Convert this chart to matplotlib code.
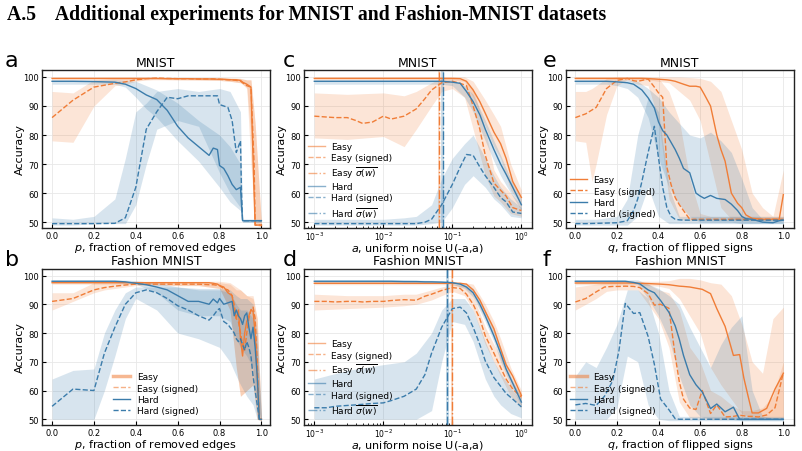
import numpy as np
import matplotlib.pyplot as plt

ORANGE = '#f07d37'
BLUE = '#3b7cab'

# ---- panel a: MNIST, removed edges ----
a_x = [0.0, 0.1, 0.2, 0.3, 0.35, 0.4, 0.45, 0.5, 0.55, 0.6, 0.65, 0.7, 0.75, 0.77, 0.79, 0.8, 0.82, 0.84,
       0.86, 0.88, 0.9, 0.905, 0.91, 0.93, 0.95, 0.965, 0.97, 1.0]
a_easy = [99.5, 99.5, 99.5, 99.5, 99.5, 99.5, 99.5, 99.5, 99.4, 99.4, 99.4, 99.3, 99.3, 99.3, 99.2, 99.2, 99.2,
          99.1, 99.0, 99.0, 98.8, 98.5, 98.2, 97.5, 96.5, 60.0, 49.0, 49.0]
a_easy_s = [86.0, 92.0, 96.5, 97.8, 98.3, 99.0, 99.4, 99.6, 99.5, 99.4, 99.4, 99.3, 99.3, 99.3, 99.2, 99.2, 99.1,
            99.0, 99.0, 98.8, 98.6, 98.3, 98.0, 97.0, 96.5, 70.0, 49.0, 49.0]
a_hard = [98.5, 98.5, 98.4, 98.2, 97.5, 96.0, 93.8, 92.2, 88.5, 83.0, 79.0, 76.0, 73.0, 75.5, 75.0, 69.5, 68.5,
          66.0, 63.0, 61.2, 62.0, 56.0, 50.5, 50.5, 50.5, 50.5, 50.5, 50.5]
a_hard_s = [49.5, 49.5, 49.5, 49.6, 51.5, 62.0, 82.0, 88.0, 93.0, 92.5, 93.5, 93.5, 93.5, 93.5, 93.5, 90.5, 90.0,
            89.5, 85.0, 74.0, 78.0, 60.0, 50.5, 50.5, 50.5, 50.5, 50.5, 50.5]
a_bx = [0.0, 0.1, 0.2, 0.3, 0.35, 0.4, 0.45, 0.5, 0.6, 0.7, 0.8, 0.85, 0.9, 0.91, 0.93, 0.95, 0.97, 1.0]
a_easy_lo = [99.0, 99.0, 99.0, 99.0, 99.0, 99.0, 99.0, 99.0, 99.0, 98.9, 98.8, 98.5, 98.0, 97.5, 96.5, 80.0, 49.0, 48.5]
a_easy_hi = [99.8, 99.8, 99.8, 99.8, 99.8, 99.8, 99.8, 99.8, 99.8, 99.8, 99.7, 99.6, 99.5, 99.3, 99.0, 99.0, 84.0, 49.5]
a_easy_s_lo = [78.0, 77.5, 90.0, 97.0, 97.5, 98.5, 99.0, 99.2, 99.0, 99.0, 98.8, 98.5, 98.0, 97.5, 96.0, 70.0, 49.0, 48.5]
a_easy_s_hi = [95.0, 94.5, 99.0, 99.5, 99.6, 99.7, 99.8, 99.8, 99.8, 99.8, 99.7, 99.6, 99.5, 99.3, 99.0, 99.0, 84.0, 49.5]
a_hard_lo = [97.5, 97.5, 97.5, 97.5, 96.5, 93.0, 89.0, 86.0, 78.0, 71.0, 62.0, 57.0, 54.0, 50.0, 50.0, 50.0, 50.0, 50.0]
a_hard_hi = [99.0, 99.0, 99.0, 99.0, 98.8, 98.5, 97.0, 95.5, 91.0, 85.0, 80.0, 76.0, 70.0, 51.0, 51.0, 51.0, 51.0, 51.0]
a_hard_s_lo = [49.0, 49.0, 49.5, 49.5, 49.5, 56.0, 70.0, 82.0, 85.0, 83.0, 67.0, 60.0, 55.0, 50.0, 50.0, 50.0, 50.0, 50.0]
a_hard_s_hi = [51.5, 51.0, 52.0, 58.0, 72.0, 88.0, 91.0, 95.0, 96.0, 95.0, 96.0, 95.0, 88.0, 51.0, 51.0, 51.0, 51.0, 51.0]

# ---- panel b: Fashion MNIST, removed edges ----
b_x = [0.0, 0.1, 0.2, 0.25, 0.3, 0.35, 0.4, 0.45, 0.5, 0.55, 0.6, 0.65, 0.7, 0.75, 0.77, 0.79, 0.8, 0.82, 0.84,
       0.86, 0.87, 0.88, 0.89, 0.9, 0.91, 0.92, 0.93, 0.94, 0.95, 0.96, 0.97, 0.98, 0.99, 1.0]
b_easy = [97.5, 97.5, 97.5, 97.5, 97.5, 97.5, 97.5, 97.5, 97.5, 97.5, 97.5, 97.5, 97.5, 97.5, 97.3, 97.0, 96.5,
          96.0, 94.0, 93.0, 88.0, 85.0, 88.0, 78.0, 72.0, 80.0, 84.0, 86.0, 88.0, 87.5, 80.0, 65.0, 50.0, 50.0]
b_easy_s = [91.0, 92.0, 95.0, 95.8, 96.3, 96.7, 97.0, 97.0, 97.0, 97.0, 97.0, 97.0, 97.0, 96.8, 96.8, 96.6, 96.5,
            95.5, 95.0, 93.0, 90.0, 85.0, 84.0, 80.0, 76.0, 74.0, 80.0, 85.0, 88.0, 89.0, 85.0, 70.0, 50.0, 50.0]
b_hard = [98.0, 98.0, 98.0, 98.0, 98.0, 97.8, 97.3, 96.8, 96.0, 95.0, 93.0, 91.0, 91.0, 90.0, 91.8, 90.5, 92.0,
          90.0, 90.5, 91.0, 86.0, 88.0, 86.0, 85.0, 83.0, 86.0, 87.0, 82.0, 78.0, 82.0, 75.0, 65.0, 50.0, 50.0]
b_hard_s = [54.5, 60.5, 60.0, 73.0, 82.0, 90.0, 94.0, 95.0, 94.0, 92.0, 89.5, 88.0, 86.0, 84.5, 86.0, 88.0, 88.5,
            84.0, 83.0, 81.0, 80.0, 78.0, 77.0, 78.0, 76.0, 74.0, 77.0, 75.0, 72.0, 65.0, 60.0, 55.0, 50.0, 50.0]
b_bx = [0.0, 0.1, 0.2, 0.25, 0.3, 0.35, 0.4, 0.5, 0.6, 0.7, 0.8, 0.85, 0.88, 0.9, 0.93, 0.96, 0.98, 1.0]
b_easy_lo = [97.0, 97.0, 97.0, 97.0, 97.0, 97.0, 97.0, 97.0, 96.5, 96.5, 95.5, 88.0, 68.0, 58.0, 60.0, 62.0, 50.0, 49.5]
b_easy_hi = [98.0, 98.0, 98.0, 98.0, 98.0, 98.0, 98.0, 98.0, 98.0, 98.0, 98.0, 97.5, 96.0, 95.0, 93.0, 93.0, 85.0, 50.5]
b_easy_s_lo = [88.0, 91.0, 94.0, 95.0, 95.5, 96.0, 96.5, 96.5, 96.5, 96.5, 95.5, 88.0, 68.0, 58.0, 60.0, 62.0, 50.0, 49.5]
b_easy_s_hi = [94.0, 94.0, 97.5, 97.5, 97.5, 97.5, 97.5, 97.5, 97.5, 97.5, 97.5, 97.0, 95.0, 95.0, 93.0, 92.0, 85.0, 50.5]
b_hard_lo = [97.5, 97.5, 97.5, 97.5, 97.5, 97.3, 97.0, 94.0, 88.0, 86.0, 86.0, 84.0, 78.0, 75.0, 72.0, 68.0, 55.0, 49.5]
b_hard_hi = [98.5, 98.5, 98.5, 98.5, 98.5, 98.4, 98.2, 97.5, 96.0, 95.5, 95.5, 95.0, 93.0, 92.0, 92.0, 90.0, 80.0, 50.5]
b_hard_s_lo = [50.0, 50.0, 50.0, 60.0, 72.0, 85.0, 92.0, 88.0, 80.0, 78.0, 75.0, 70.0, 65.0, 62.0, 58.0, 55.0, 50.0, 49.5]
b_hard_s_hi = [64.0, 67.0, 67.5, 80.0, 88.0, 94.0, 96.0, 96.0, 96.0, 95.0, 95.0, 94.0, 90.0, 88.0, 88.0, 85.0, 75.0, 50.5]

# ---- panels c, d: uniform noise (log x) ----
log_x = [1e-3, 1.5e-3, 2e-3, 3e-3, 4e-3, 5e-3, 7e-3, 1e-2, 1.3e-2, 2e-2, 3e-2, 4e-2, 5e-2, 7e-2, 0.1, 0.13, 0.16,
         0.2, 0.25, 0.3, 0.4, 0.5, 0.6, 0.75, 1.0]
log_bx = [1e-3, 3e-3, 1e-2, 2e-2, 3e-2, 5e-2, 7e-2, 0.1, 0.15, 0.2, 0.3, 0.4, 0.5, 0.7, 1.0]

c_easy = [99.5, 99.5, 99.5, 99.5, 99.5, 99.5, 99.5, 99.5, 99.5, 99.5, 99.5, 99.5, 99.5, 99.5, 99.5, 99.4, 98.5,
          95.5, 91.5, 87.5, 81.0, 77.0, 72.0, 64.0, 58.5]
c_easy_s = [86.5, 86.2, 86.0, 86.0, 85.0, 84.0, 84.5, 86.5, 85.5, 86.5, 89.0, 92.5, 95.5, 98.0, 98.5, 97.8, 97.0,
            90.0, 82.0, 73.0, 63.5, 61.0, 59.0, 55.0, 54.0]
c_hard = [98.5, 98.5, 98.5, 98.5, 98.5, 98.5, 98.5, 98.5, 98.5, 98.5, 98.5, 98.5, 98.5, 98.5, 98.2, 97.8, 95.0,
          91.5, 87.0, 82.0, 75.0, 70.0, 66.5, 62.0, 56.0]
c_hard_s = [49.5, 49.5, 49.5, 49.5, 49.5, 49.5, 49.5, 49.5, 49.5, 49.5, 49.5, 50.0, 51.0, 56.0, 63.0, 69.0, 73.3,
            73.0, 69.0, 66.0, 62.0, 58.5, 57.0, 53.5, 53.0]
c_easy_lo = [99.0, 99.0, 99.0, 99.0, 99.0, 99.0, 99.0, 99.0, 98.5, 93.0, 83.0, 76.0, 72.0, 61.0, 56.0]
c_easy_hi = [100.0, 100.0, 100.0, 100.0, 100.0, 100.0, 100.0, 100.0, 100.0, 98.5, 92.0, 87.0, 83.0, 70.0, 61.0]
c_easy_s_lo = [79.0, 78.5, 79.5, 76.0, 82.0, 90.0, 95.0, 96.0, 93.0, 82.0, 66.0, 59.0, 57.0, 53.0, 52.0]
c_easy_s_hi = [94.5, 94.0, 94.5, 93.5, 95.0, 98.0, 99.5, 99.5, 99.0, 96.0, 82.0, 68.0, 64.0, 60.0, 56.0]
c_hard_lo = [97.5, 97.5, 97.5, 97.5, 97.5, 97.5, 97.5, 97.0, 93.0, 88.0, 78.0, 71.0, 66.0, 60.0, 54.0]
c_hard_hi = [99.0, 99.0, 99.0, 99.0, 99.0, 99.0, 99.0, 99.0, 97.0, 94.0, 85.0, 78.0, 73.0, 65.0, 58.0]
c_hard_s_lo = [49.0, 49.0, 49.0, 49.0, 49.0, 49.5, 50.0, 55.0, 63.0, 66.0, 62.0, 58.0, 56.0, 52.0, 51.5]
c_hard_s_hi = [51.0, 51.0, 51.0, 51.5, 52.0, 56.0, 65.0, 72.0, 77.0, 80.0, 72.0, 66.0, 62.0, 58.0, 55.0]
c_sigma = [0.065, 0.072]  # easy, hard

d_easy = [97.3, 97.3, 97.3, 97.3, 97.3, 97.3, 97.3, 97.3, 97.3, 97.3, 97.3, 97.3, 97.3, 97.3, 97.3, 97.3, 97.0,
          95.0, 91.5, 87.5, 81.5, 74.5, 69.0, 65.0, 58.3]
d_easy_s = [91.0, 91.0, 90.8, 91.0, 91.0, 90.8, 91.0, 91.0, 91.3, 91.6, 91.4, 92.8, 93.5, 94.8, 95.8, 95.5, 93.5,
            90.0, 85.0, 79.0, 73.0, 68.0, 64.0, 60.5, 57.7]
d_hard = [98.0, 98.0, 98.0, 98.0, 98.0, 98.0, 98.0, 98.0, 98.0, 97.9, 97.9, 97.8, 97.8, 97.7, 97.5, 97.0, 96.0,
          94.0, 90.0, 86.0, 79.0, 73.0, 67.5, 62.5, 56.0]
d_hard_s = [54.0, 54.0, 54.5, 54.8, 55.0, 55.2, 55.5, 55.7, 56.5, 58.0, 60.5, 65.5, 73.0, 82.0, 88.5, 89.0, 87.0,
            82.0, 76.0, 70.3, 64.5, 61.5, 59.0, 57.0, 54.3]
d_easy_lo = [96.8, 96.8, 96.8, 96.8, 96.8, 96.8, 96.8, 96.6, 96.0, 93.0, 85.0, 79.0, 71.0, 63.5, 57.0]
d_easy_hi = [97.8, 97.8, 97.8, 97.8, 97.8, 97.8, 97.8, 97.8, 97.5, 97.0, 90.0, 84.0, 78.0, 68.0, 60.0]
d_easy_s_lo = [88.0, 88.5, 89.0, 89.5, 90.0, 91.5, 93.0, 94.5, 93.0, 88.0, 76.0, 70.0, 65.0, 58.0, 54.0]
d_easy_s_hi = [93.5, 93.0, 93.0, 93.5, 93.5, 95.0, 96.0, 97.0, 96.5, 93.0, 82.0, 76.0, 72.0, 64.0, 58.0]
d_hard_lo = [97.5, 97.5, 97.5, 97.5, 97.4, 97.3, 97.2, 97.0, 95.5, 92.5, 84.0, 77.0, 70.0, 62.0, 54.5]
d_hard_hi = [98.5, 98.5, 98.5, 98.5, 98.4, 98.3, 98.2, 98.0, 97.0, 95.5, 88.0, 81.0, 75.0, 65.0, 57.5]
d_hard_s_lo = [50.0, 50.0, 50.0, 50.0, 50.0, 53.0, 70.0, 84.0, 83.0, 77.0, 64.0, 58.0, 55.0, 52.0, 50.5]
d_hard_s_hi = [64.0, 67.0, 69.0, 70.0, 73.0, 80.0, 88.0, 92.0, 92.0, 88.0, 77.0, 70.0, 66.0, 61.0, 56.0]
d_sigma = [0.098, 0.085]  # easy, hard

# ---- panel e: MNIST, flipped signs ----
e_x = [0.0, 0.05, 0.1, 0.15, 0.2, 0.25, 0.28, 0.3, 0.32, 0.35, 0.38, 0.4, 0.42, 0.44, 0.46, 0.48, 0.5, 0.52, 0.55,
       0.58, 0.6, 0.62, 0.65, 0.68, 0.7, 0.72, 0.75, 0.78, 0.8, 0.82, 0.85, 0.9, 0.95, 0.98, 1.0]
e_easy = [99.5, 99.5, 99.5, 99.5, 99.5, 99.5, 99.5, 99.5, 99.5, 99.4, 99.3, 99.2, 99.1, 99.0, 98.8, 98.5, 98.0, 97.5,
          96.8, 96.8, 96.5, 94.0, 90.0, 80.0, 75.0, 71.0, 60.0, 56.5, 55.0, 52.5, 51.3, 51.0, 51.0, 51.0, 59.5]
e_easy_s = [86.0, 87.3, 89.5, 96.0, 98.8, 99.5, 98.7, 98.5, 98.8, 99.3, 96.5, 94.5, 93.0, 69.0, 63.0, 58.5, 56.0, 54.0,
            51.0, 51.0, 51.0, 51.0, 51.0, 51.0, 51.0, 51.0, 51.0, 51.0, 51.0, 51.0, 51.0, 51.0, 51.0, 51.0, 51.0]
e_hard = [98.5, 98.5, 98.5, 98.5, 98.3, 98.0, 97.5, 96.5, 95.5, 92.8, 89.3, 84.5, 81.5, 80.0, 77.5, 75.0, 72.0, 68.5,
          67.0, 60.0, 59.0, 58.2, 59.2, 58.2, 58.0, 57.8, 56.2, 54.0, 52.0, 51.2, 51.0, 50.0, 49.8, 50.5, 50.7]
e_hard_s = [49.5, 49.5, 49.6, 49.7, 49.8, 50.5, 54.0, 58.0, 64.0, 74.0, 83.0, 72.0, 62.0, 55.0, 52.0, 51.0, 50.8, 50.7,
            50.7, 50.7, 50.7, 50.7, 50.7, 50.7, 50.7, 50.7, 50.7, 50.7, 50.7, 50.7, 50.7, 50.7, 50.7, 50.7, 50.7]
e_bx = [0.0, 0.05, 0.08, 0.1, 0.15, 0.2, 0.25, 0.3, 0.35, 0.4, 0.45, 0.5, 0.55, 0.6, 0.65, 0.7, 0.75, 0.8, 0.85,
        0.9, 0.95, 1.0]
e_easy_lo = [99.0, 99.0, 99.0, 99.0, 99.0, 99.0, 99.0, 99.0, 99.0, 98.5, 98.0, 95.0, 92.0, 85.0, 70.0, 55.0, 51.0,
             50.5, 50.5, 50.5, 50.5, 51.0]
e_easy_hi = [100.0, 100.0, 100.0, 100.0, 100.0, 100.0, 100.0, 100.0, 100.0, 100.0, 100.0, 100.0, 99.8, 99.5, 98.5,
             95.0, 85.0, 75.0, 60.0, 55.0, 52.0, 68.0]
e_easy_s_lo = [78.0, 77.5, 64.0, 70.0, 87.0, 97.0, 99.0, 97.5, 97.0, 85.0, 58.0, 51.0, 50.5, 50.5, 50.5, 50.5, 50.5,
               50.5, 50.5, 50.5, 50.5, 50.5]
e_easy_s_hi = [95.0, 95.0, 96.0, 97.0, 99.5, 100.0, 100.0, 100.0, 100.0, 99.5, 95.0, 85.0, 65.0, 53.0, 52.0, 52.0,
               52.0, 52.0, 52.0, 52.0, 52.0, 52.0]
e_hard_lo = [97.5, 97.5, 97.5, 97.5, 97.5, 97.0, 96.0, 93.0, 86.0, 72.0, 62.0, 56.0, 52.0, 50.0, 50.0, 50.0, 50.0,
             49.5, 49.5, 49.5, 49.5, 49.5]
e_hard_hi = [99.0, 99.0, 99.0, 99.0, 99.0, 99.0, 99.0, 98.5, 96.0, 93.0, 88.0, 84.0, 80.0, 79.0, 81.0, 78.0, 74.0,
             65.0, 55.0, 51.0, 51.0, 51.5]
e_hard_s_lo = [49.0, 49.0, 49.0, 49.0, 49.0, 49.0, 49.0, 52.0, 62.0, 52.0, 49.5, 49.5, 49.5, 49.5, 49.5, 49.5, 49.5,
               49.5, 49.5, 49.5, 49.5, 49.5]
e_hard_s_hi = [51.0, 51.0, 51.0, 51.0, 51.5, 52.0, 58.0, 80.0, 93.0, 88.0, 62.0, 52.0, 52.0, 52.0, 52.0, 52.0, 52.0,
               52.0, 52.0, 52.0, 52.0, 52.0]

# ---- panel f: Fashion MNIST, flipped signs ----
f_x = [0.0, 0.05, 0.1, 0.14, 0.18, 0.21, 0.24, 0.28, 0.31, 0.35, 0.38, 0.41, 0.45, 0.48, 0.5, 0.52, 0.55, 0.58,
       0.61, 0.65, 0.68, 0.72, 0.76, 0.79, 0.81, 0.83, 0.85, 0.88, 0.92, 0.96, 1.0]
f_easy = [97.4, 97.4, 97.4, 97.4, 97.4, 97.4, 97.4, 97.4, 97.3, 97.2, 97.1, 97.0, 96.8, 96.5, 96.3, 96.2, 96.0, 95.6,
          95.2, 93.7, 88.5, 82.3, 72.2, 72.5, 64.4, 58.2, 52.2, 52.2, 53.8, 60.5, 66.0]
f_easy_s = [90.8, 92.0, 94.3, 96.0, 96.2, 96.2, 96.3, 96.2, 95.8, 93.7, 89.7, 90.0, 88.6, 72.0, 63.0, 57.0, 53.9, 53.4,
            60.0, 52.0, 55.0, 50.8, 51.0, 51.4, 51.2, 51.0, 51.0, 50.8, 51.5, 54.0, 66.2]
f_hard = [98.0, 98.0, 98.0, 98.0, 98.0, 98.0, 98.0, 97.6, 97.1, 95.0, 94.0, 91.3, 87.2, 82.5, 77.8, 72.2, 65.5, 62.0,
          59.5, 53.7, 55.3, 52.6, 54.2, 50.0, 50.0, 50.0, 50.0, 50.0, 50.0, 50.0, 50.0]
f_hard_s = [55.0, 55.5, 54.8, 58.0, 63.4, 74.0, 90.3, 86.8, 87.1, 78.8, 69.1, 57.0, 53.3, 50.2, 50.0, 50.0, 50.0, 50.0,
            50.0, 50.0, 50.0, 50.0, 50.0, 50.0, 50.0, 50.0, 50.0, 50.0, 50.0, 50.0, 50.0]
f_bx = [0.0, 0.05, 0.1, 0.15, 0.2, 0.25, 0.3, 0.35, 0.4, 0.45, 0.5, 0.55, 0.6, 0.65, 0.7, 0.75, 0.8, 0.85, 0.9,
        0.95, 1.0]
f_easy_lo = [96.8, 96.8, 96.8, 96.8, 96.8, 96.8, 96.7, 96.5, 96.3, 95.5, 92.0, 86.0, 80.0, 68.0, 62.0, 57.0, 52.0,
             50.5, 50.5, 50.5, 50.5]
f_easy_hi = [98.0, 98.0, 98.0, 98.0, 98.0, 98.0, 98.0, 98.0, 98.0, 98.2, 99.0, 99.0, 98.5, 97.5, 97.0, 93.0, 83.0,
             70.0, 66.0, 85.0, 89.0]
f_easy_s_lo = [88.0, 90.0, 92.0, 94.5, 95.0, 95.0, 95.0, 90.0, 85.0, 75.0, 56.0, 50.5, 50.5, 50.0, 50.0, 50.0, 50.0,
               50.0, 50.0, 50.0, 50.0]
f_easy_s_hi = [96.0, 96.5, 97.0, 97.5, 97.5, 97.5, 97.5, 97.0, 95.0, 94.0, 88.0, 75.0, 70.0, 60.0, 58.0, 55.0, 53.0,
               53.0, 54.0, 58.0, 70.0]
f_hard_lo = [97.5, 97.5, 97.5, 97.5, 97.5, 97.5, 97.0, 92.0, 86.0, 78.0, 65.0, 55.0, 51.0, 50.0, 50.0, 50.0, 49.5,
             49.5, 49.5, 49.5, 49.5]
f_hard_hi = [98.5, 98.5, 98.5, 98.5, 98.5, 98.5, 98.5, 97.0, 95.5, 93.0, 90.0, 82.0, 75.0, 68.0, 76.0, 82.0, 86.0,
             60.0, 51.0, 50.5, 50.5]
f_hard_s_lo = [50.0, 50.0, 50.0, 50.0, 54.0, 72.0, 70.0, 55.0, 50.0, 49.5, 49.5, 49.5, 49.5, 49.5, 49.5, 49.5, 49.5,
               49.5, 49.5, 49.5, 49.5]
f_hard_s_hi = [65.0, 70.0, 68.0, 75.0, 83.0, 95.0, 95.0, 92.0, 80.0, 60.0, 51.0, 51.0, 51.0, 51.0, 51.0, 51.0, 51.0,
               51.0, 51.0, 51.0, 51.0]

labels = ['Easy', 'Easy (signed)', 'Hard', 'Hard (signed)']
edge_label = r'$p$, fraction of removed edges'
noise_label = r'$a$, uniform noise U(-a,a)'
flip_label = r'$q$, fraction of flipped signs'

plt.rcParams['font.family'] = 'DejaVu Sans'
fig = plt.figure(figsize=(8.02, 4.52), dpi=100)

fig.text(0.009, 0.956, 'A.5    Additional experiments for MNIST and Fashion-MNIST datasets',
         family='Liberation Serif', weight='bold', fontsize=14.2, va='baseline')


def panel(rect, letter_x, letter, title, xlabel, x, bx, lines, bands, log=False, xlim=None):
    ax = fig.add_axes(rect)
    colors = [ORANGE, ORANGE, BLUE, BLUE]
    styles = ['-', '--', '-', '--']
    for (lo, hi), c in zip(bands, colors):
        ax.fill_between(bx, lo, hi, color=c, alpha=0.2, lw=0)
    for y, c, ls, lab in zip(lines, colors, styles, labels):
        ax.plot(x, y, color=c, ls=ls, lw=1.0, label=lab)
    if xlim:
        ax.set_xlim(*xlim)
    ax.set_ylim(48, 102.4)
    ax.set_yticks([50, 60, 70, 80, 90, 100])
    ax.grid(True, color='#e8e8e8', lw=0.6)
    ax.set_axisbelow(True)
    ax.tick_params(direction='in', length=3, width=0.8, labelsize=6, pad=2)
    ax.tick_params(which='minor', direction='in', length=1.5, width=0.6)
    if log:
        ax.set_xscale('log')
        ax.tick_params(axis='x', labelsize=5.5, pad=1.5)
        ax.tick_params(axis='x', which='minor', direction='in', length=1.5, width=0.6)
    for s in ax.spines.values():
        s.set_linewidth(1.0)
        s.set_color('#222222')
    ax.set_title(title, fontsize=9, pad=3)
    ax.set_xlabel(xlabel, fontsize=8)
    ax.set_ylabel('Accuracy', fontsize=8)
    ax.xaxis.set_label_coords(0.5, -0.085 if log else -0.074)
    ax.yaxis.set_label_coords(-0.075, 0.5)
    x0, y0, w, h = rect
    fig.text(letter_x, y0 + h + 0.009, letter, fontsize=16, va='baseline')
    return ax


def legend(ax, **kw):
    leg = ax.legend(frameon=False, fontsize=6.5, handlelength=1.9, handletextpad=0.75,
                    labelspacing=0.25, borderaxespad=0.0, loc='lower left', **kw)
    return leg


W = 0.284
top_y, top_h = 0.4934, 0.3496
bot_y, bot_h = 0.0575, 0.346
lin_lim = (-0.048, 1.04)

# a
ax = panel([0.0524, top_y, W, top_h], 0.006, 'a', 'MNIST', edge_label, a_x, a_bx,
           [a_easy, a_easy_s, a_hard, a_hard_s],
           [(a_easy_lo, a_easy_hi), (a_easy_s_lo, a_easy_s_hi), (a_hard_lo, a_hard_hi),
            (a_hard_s_lo, a_hard_s_hi)], xlim=lin_lim)

# b
ax = panel([0.0524, bot_y, W, bot_h], 0.006, 'b', 'Fashion MNIST', edge_label, b_x, b_bx,
           [b_easy, b_easy_s, b_hard, b_hard_s],
           [(b_easy_lo, b_easy_hi), (b_easy_s_lo, b_easy_s_hi), (b_hard_lo, b_hard_hi),
            (b_hard_s_lo, b_hard_s_hi)], xlim=lin_lim)
leg = legend(ax, bbox_to_anchor=(0.297, 0.04))
leg.legend_handles[0].set_linewidth(2.5)
leg.legend_handles[0].set_alpha(0.55)
leg.legend_handles[1].set_alpha(0.6)


def noise_panel(rect, letter, title, lines, bands, sigma):
    ax = panel(rect, 0.352, letter, title, noise_label, log_x, log_bx, lines, bands, log=True)
    for s, c in zip(sigma, [ORANGE, BLUE]):
        ax.axvspan(s * 0.965, s * 1.035, color=c, alpha=0.25, lw=0)
        ax.axvline(s, color=c, ls='-.', lw=1.0)
    h, l = ax.get_legend_handles_labels()
    sig_e = plt.Line2D([], [], color=ORANGE, ls='-.', lw=1.0)
    sig_h = plt.Line2D([], [], color=BLUE, ls='-.', lw=1.0)
    handles = [h[0], h[1], sig_e, h[2], h[3], sig_h]
    names = [l[0], l[1], r'Easy $\overline{\sigma(w)}$', l[2], l[3], r'Hard $\overline{\sigma(w)}$']
    leg = legend(ax, handles=handles, labels=names, bbox_to_anchor=(0.0, 0.03))
    for hd in leg.legend_handles:
        hd.set_alpha(0.6)
    return ax


noise_panel([0.379, top_y, W, top_h], 'c', 'MNIST',
            [c_easy, c_easy_s, c_hard, c_hard_s],
            [(c_easy_lo, c_easy_hi), (c_easy_s_lo, c_easy_s_hi), (c_hard_lo, c_hard_hi),
             (c_hard_s_lo, c_hard_s_hi)], c_sigma)
noise_panel([0.379, bot_y, W, bot_h], 'd', 'Fashion MNIST',
            [d_easy, d_easy_s, d_hard, d_hard_s],
            [(d_easy_lo, d_easy_hi), (d_easy_s_lo, d_easy_s_hi), (d_hard_lo, d_hard_hi),
             (d_hard_s_lo, d_hard_s_hi)], d_sigma)

flip_lim = (-0.045, 1.05)
ax = panel([0.7057, top_y, W, top_h], 0.677, 'e', 'MNIST', flip_label, e_x, e_bx,
           [e_easy, e_easy_s, e_hard, e_hard_s],
           [(e_easy_lo, e_easy_hi), (e_easy_s_lo, e_easy_s_hi), (e_hard_lo, e_hard_hi),
            (e_hard_s_lo, e_hard_s_hi)], xlim=flip_lim)
legend(ax, bbox_to_anchor=(0.0, 0.04))

ax = panel([0.7057, bot_y, W, bot_h], 0.677, 'f', 'Fashion MNIST', flip_label, f_x, f_bx,
           [f_easy, f_easy_s, f_hard, f_hard_s],
           [(f_easy_lo, f_easy_hi), (f_easy_s_lo, f_easy_s_hi), (f_hard_lo, f_hard_hi),
            (f_hard_s_lo, f_hard_s_hi)], xlim=flip_lim)
leg = legend(ax, bbox_to_anchor=(0.0, 0.04))
leg.legend_handles[0].set_linewidth(2.5)
leg.legend_handles[0].set_alpha(0.55)
leg.legend_handles[1].set_alpha(0.6)

fig.savefig('out.png', dpi=100)
